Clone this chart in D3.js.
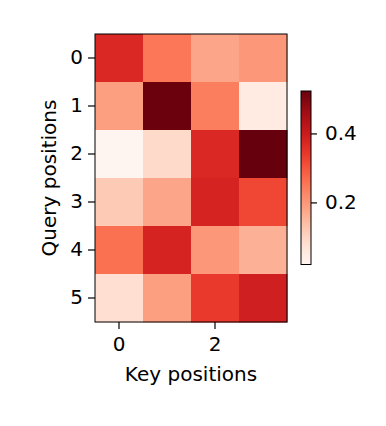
<!DOCTYPE html>
<html>
<head>
<meta charset="utf-8">
<script src="https://cdn.jsdelivr.net/npm/d3@7"></script>
<style>
  body { margin: 0; background: #fff; }
  text { font-family: "DejaVu Sans", sans-serif; }
</style>
</head>
<body>
<div id="chart"></div>
<script>
// attention weights, rows = queries, cols = keys
const keys = [0, 1, 2, 3];
const queries = [0, 1, 2, 3, 4, 5];
const row0 = [0.37, 0.25, 0.18, 0.20];
const row1 = [0.19, 0.52, 0.24, 0.05];
const row2 = [0.02, 0.09, 0.37, 0.523];
const row3 = [0.12, 0.18, 0.38, 0.32];
const row4 = [0.26, 0.38, 0.20, 0.16];
const row5 = [0.08, 0.19, 0.34, 0.39];
const xTicks = [0, 2];
const cbTicks = [0.2, 0.4];

const rows = [row0, row1, row2, row3, row4, row5];
const cells = [];
rows.forEach((r, qi) => r.forEach((v, ki) => cells.push({q: queries[qi], k: keys[ki], v: v})));

const W = 386, H = 426;
const plot = {left: 95, top: 34, right: 287, bottom: 322};
const fs = '20px';

const svg = d3.select('#chart').append('svg')
  .attr('width', W).attr('height', H);

const vmin = d3.min(cells, d => d.v), vmax = d3.max(cells, d => d.v);
const color = d3.scaleSequential(d3.interpolateReds).domain([vmin, vmax]);

const x = d3.scaleBand().domain(keys).range([plot.left, plot.right]);
const y = d3.scaleBand().domain(queries).range([plot.top, plot.bottom]);

svg.append('g').selectAll('rect')
  .data(cells)
  .enter().append('rect')
  .attr('x', d => x(d.k))
  .attr('y', d => y(d.q))
  .attr('width', x.bandwidth() + 0.5)
  .attr('height', y.bandwidth() + 0.5)
  .attr('fill', d => color(d.v));

svg.append('rect')
  .attr('x', plot.left).attr('y', plot.top)
  .attr('width', plot.right - plot.left).attr('height', plot.bottom - plot.top)
  .attr('fill', 'none').attr('stroke', '#000').attr('stroke-width', 1);

function styleAxis(g) {
  g.select('.domain').remove();
  g.selectAll('.tick line').attr('stroke', '#000').attr('stroke-width', 1.2);
  g.selectAll('.tick text').attr('fill', '#000')
    .style('font-family', '"DejaVu Sans", sans-serif').style('font-size', fs);
}

svg.append('g')
  .attr('transform', `translate(0,${plot.bottom})`)
  .call(d3.axisBottom(x).tickValues(xTicks).tickSize(7).tickPadding(8))
  .call(styleAxis);

svg.append('g')
  .attr('transform', `translate(${plot.left},0)`)
  .call(d3.axisLeft(y).tickSize(7).tickPadding(5))
  .call(styleAxis);

svg.append('text')
  .attr('x', (plot.left + plot.right) / 2).attr('y', 381)
  .attr('text-anchor', 'middle').style('font-size', fs)
  .text('Key positions');

svg.append('text')
  .attr('transform', `translate(56,${(plot.top + plot.bottom) / 2}) rotate(-90)`)
  .attr('text-anchor', 'middle').style('font-size', fs)
  .text('Query positions');

// colorbar
const cb = {left: 301, right: 311, top: 91, bottom: 264.5};
const cbScale = d3.scaleLinear().domain([vmin, vmax]).range([cb.bottom, cb.top]);

const grad = svg.append('defs').append('linearGradient')
  .attr('id', 'cbgrad').attr('x1', 0).attr('y1', 1).attr('x2', 0).attr('y2', 0);
d3.range(0, 1.0001, 0.05).forEach(t => {
  grad.append('stop').attr('offset', t).attr('stop-color', d3.interpolateReds(t));
});

svg.append('rect')
  .attr('x', cb.left).attr('y', cb.top)
  .attr('width', cb.right - cb.left).attr('height', cb.bottom - cb.top)
  .attr('fill', 'url(#cbgrad)').attr('stroke', '#000').attr('stroke-width', 1);

svg.append('g')
  .attr('transform', `translate(${cb.right},0)`)
  .call(d3.axisRight(cbScale).tickValues(cbTicks).tickFormat(d3.format('.1f')).tickSize(6).tickPadding(8))
  .call(styleAxis);
</script>
</body>
</html>
